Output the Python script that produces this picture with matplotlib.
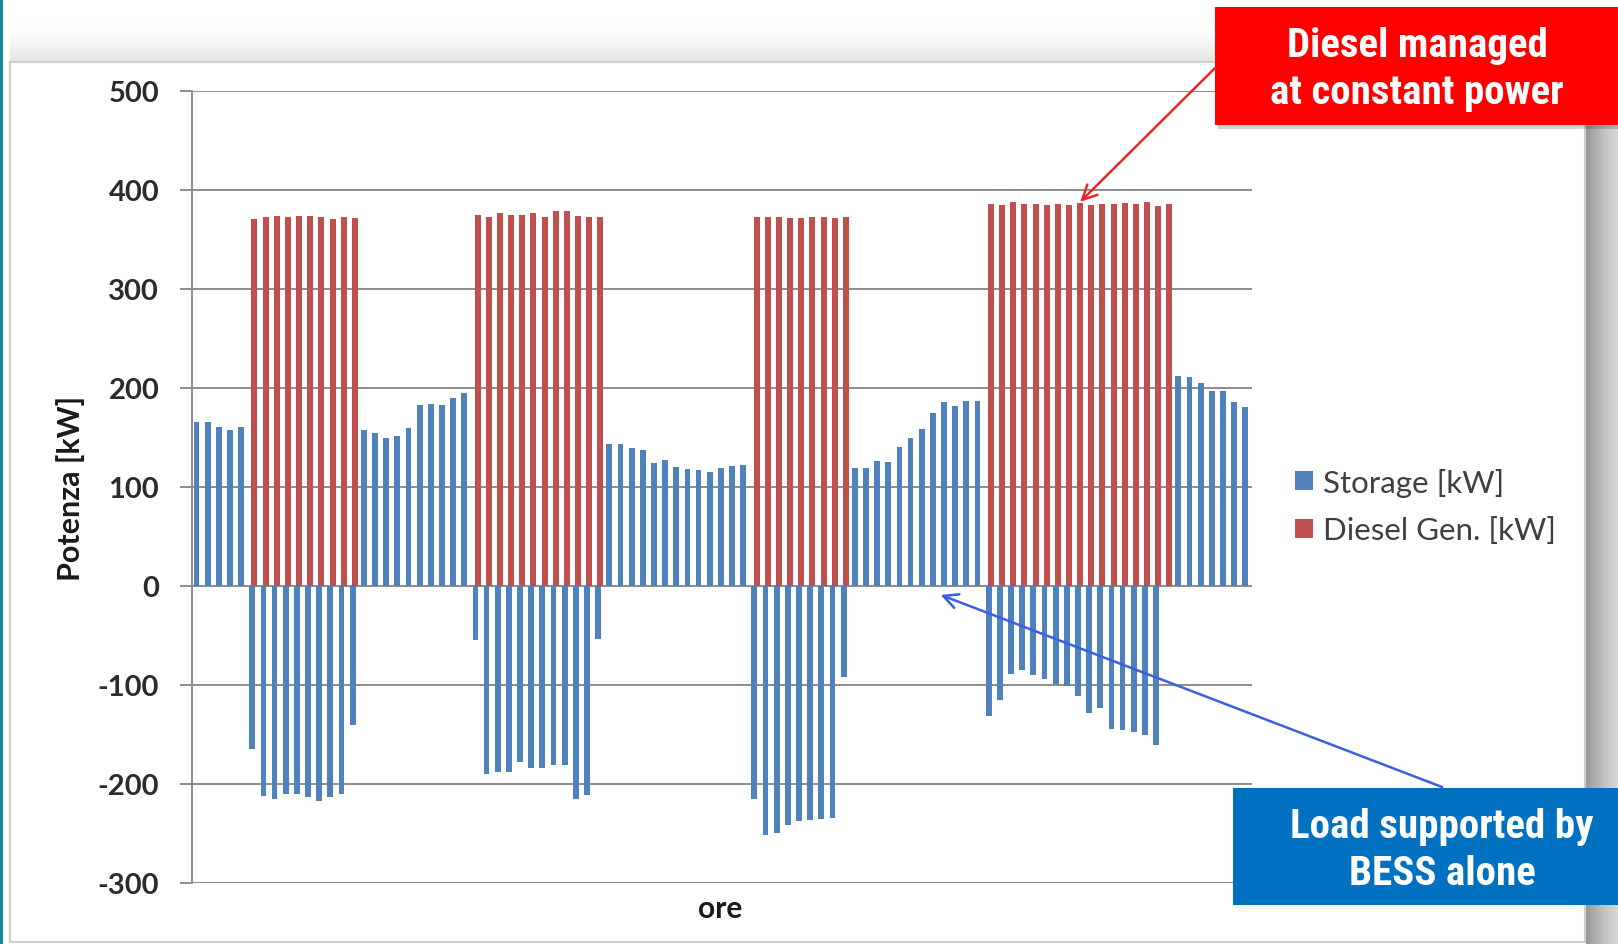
import numpy as np
import matplotlib
matplotlib.use("Agg")
import matplotlib.pyplot as plt
from matplotlib.patches import Rectangle
from matplotlib import font_manager

# Hourly power flows (kW): battery storage (+ discharge / - charge) and diesel generator
storage_kw = [
    166, 166, 161, 158, 161,
    -165, -212, -215, -210, -210, -213, -217, -213, -210, -140,
    158, 155, 149, 152, 160, 183, 184, 183, 190, 195,
    -55, -190, -188, -188, -178, -184, -184, -181, -181, -215, -211, -54,
    143, 143, 139, 137, 124, 127, 120, 118, 117, 115, 119, 121, 122,
    -215, -252, -249, -241, -237, -236, -235, -234, -92,
    119, 119, 126, 125, 140, 150, 159, 175, 186, 182, 187, 187,
    -131, -115, -89, -85, -90, -94, -99, -101, -111, -128, -123, -144, -145, -147, -151, -161, 0,
    212, 211, 205, 197, 197, 186, 181,
]
diesel_kw = [
    0, 0, 0, 0, 0,
    371, 373, 374, 373, 374, 374, 373, 371, 373, 372,
    0, 0, 0, 0, 0, 0, 0, 0, 0, 0,
    375, 373, 377, 375, 375, 377, 373, 379, 379, 374, 373, 373,
    0, 0, 0, 0, 0, 0, 0, 0, 0, 0, 0, 0, 0,
    373, 373, 373, 372, 372, 373, 373, 372, 373,
    0, 0, 0, 0, 0, 0, 0, 0, 0, 0, 0, 0,
    386, 385, 388, 386, 386, 385, 386, 385, 387, 385, 386, 386, 387, 386, 388, 384, 386,
    0, 0, 0, 0, 0, 0, 0,
]
series_names = ["Storage [kW]", "Diesel Gen. [kW]"]
y_ticks = [-300, -200, -100, 0, 100, 200, 300, 400, 500]
y_label = "Potenza [kW]"
x_label = "ore"
note_diesel = ["Diesel managed", "at constant power"]
note_bess = ["Load supported by", "BESS alone"]

W, H = 1618, 945
BLUE, RED = "#4f81bd", "#c0504d"
GRID = "#8c8c8c"
UI_FONT = ["Lato", "DejaVu Sans"]

# narrow bold face for the callout boxes, falling back to a compact sans
installed = {f.name for f in font_manager.fontManager.ttflist}
if "Liberation Sans Narrow" in installed:
    BOX_FONT, BOX_SIZE = ["Liberation Sans Narrow", "DejaVu Sans"], 29
elif "Roboto Condensed" in installed:
    BOX_FONT, BOX_SIZE = ["Roboto Condensed", "DejaVu Sans"], 29.5
else:
    BOX_FONT, BOX_SIZE = ["Roboto", "DejaVu Sans"], 25.5

fig = plt.figure(figsize=(W / 100, H / 100), dpi=100)

# ---- background: slide frame, shadows, accent strip (pixel coordinates)
bg = fig.add_axes([0, 0, 1, 1], zorder=-5)
bg.axis("off")
top_shade = 1 - 0.10 * np.linspace(0, 1, 40) ** 1.5
bg.imshow(np.dstack([np.repeat(top_shade[:, None], 2, axis=1)] * 3),
          extent=(10, 1586, 63, 22), aspect="auto", interpolation="bilinear")
side_shade = np.concatenate([np.linspace(0.60, 0.78, 20), np.linspace(0.78, 0.86, 14)])
bg.imshow(np.dstack([np.repeat(side_shade[None, :], 2, axis=0)] * 3),
          extent=(1586, 1620, 945, 60), aspect="auto", interpolation="bilinear")
bg.add_patch(Rectangle((10, 63), 1575, 880, facecolor="white",
                       edgecolor="#cdcdcd", lw=1.5))
bg.add_patch(Rectangle((0, 0), 3, H, facecolor="#168a9a", edgecolor="none"))
bg.set_xlim(0, W)
bg.set_ylim(H, 0)

# ---- main chart
ax = fig.add_axes([192 / W, (H - 884) / H, 1060 / W, (884 - 92) / H])
x = np.arange(len(storage_kw))
ax.bar(x - 0.1, storage_kw, width=0.52, color=BLUE, label=series_names[0], zorder=3)
ax.bar(x + 0.1, diesel_kw, width=0.54, color=RED, label=series_names[1], zorder=3)

ax.set_xlim(-0.5, len(storage_kw) - 0.5)
ax.set_ylim(y_ticks[0], y_ticks[-1])
ax.set_yticks(y_ticks)
ax.set_yticklabels([str(v) for v in y_ticks], fontfamily=UI_FONT,
                   fontweight="bold", fontsize=21, color="#2b2b2b")
ax.set_xticks([])
ax.tick_params(axis="y", length=8.6, width=1.4, color=GRID, pad=15)
ax.grid(axis="y", color=GRID, lw=1.4, zorder=0)
for side in ("top", "right", "bottom"):
    ax.spines[side].set_visible(False)
ax.spines["left"].set_color(GRID)
ax.spines["left"].set_linewidth(1.4)

ax.set_ylabel(y_label, fontfamily=UI_FONT, fontweight="bold", fontsize=22,
              color="#1a1a1a", va="center")
ax.yaxis.set_label_coords(-0.115, 0.5)
ax.set_xlabel(x_label, fontfamily=UI_FONT, fontweight="bold", fontsize=21.5,
              color="#1a1a1a", va="center")
ax.xaxis.set_label_coords(0.498, -0.031)

leg = ax.legend(loc="center left", bbox_to_anchor=(1295 / W, 1 - 507 / H),
                bbox_transform=fig.transFigure, frameon=False,
                prop={"family": UI_FONT, "size": 22.5},
                handlelength=0.58, handleheight=0.55, handletextpad=0.32,
                labelspacing=0.62, borderpad=0, borderaxespad=0)
for t in leg.get_texts():
    t.set_color("#404040")

# ---- callouts on top
fg = fig.add_axes([0, 0, 1, 1], zorder=10)
fg.axis("off")
fg.patch.set_alpha(0)
fg.set_xlim(0, W)
fg.set_ylim(H, 0)

fg.add_patch(Rectangle((1218, 12), 420, 118, facecolor="#000000", alpha=0.18,
                       edgecolor="none"))
fg.add_patch(Rectangle((1215, 8), 420, 118, facecolor="#ff0000", edgecolor="none"))
for txt, base in zip(note_diesel, (57, 104)):
    fg.text(1417, base, txt, ha="center", va="baseline", color="white",
            fontsize=BOX_SIZE, fontweight="bold", family=BOX_FONT)

fg.add_patch(Rectangle((1233, 789), 400, 117, facecolor="#0070c0", edgecolor="none"))
for txt, base in zip(note_bess, (838, 885)):
    fg.text(1442, base, txt, ha="center", va="baseline", color="white",
            fontsize=BOX_SIZE, fontweight="bold", family=BOX_FONT)

fg.annotate("", xy=(79.1, 388), xycoords=ax.transData,
            xytext=(1215, 69), textcoords="data", annotation_clip=False,
            arrowprops=dict(arrowstyle="->", color="#e8262b", lw=1.8,
                            mutation_scale=26, shrinkA=0, shrinkB=0))
fg.annotate("", xy=(66.6, -9), xycoords=ax.transData,
            xytext=(1442, 788), textcoords="data", annotation_clip=False,
            arrowprops=dict(arrowstyle="->", color="#3a5fe0", lw=1.8,
                            mutation_scale=26, shrinkA=0, shrinkB=0))

fig.savefig("out.png", dpi=100)
